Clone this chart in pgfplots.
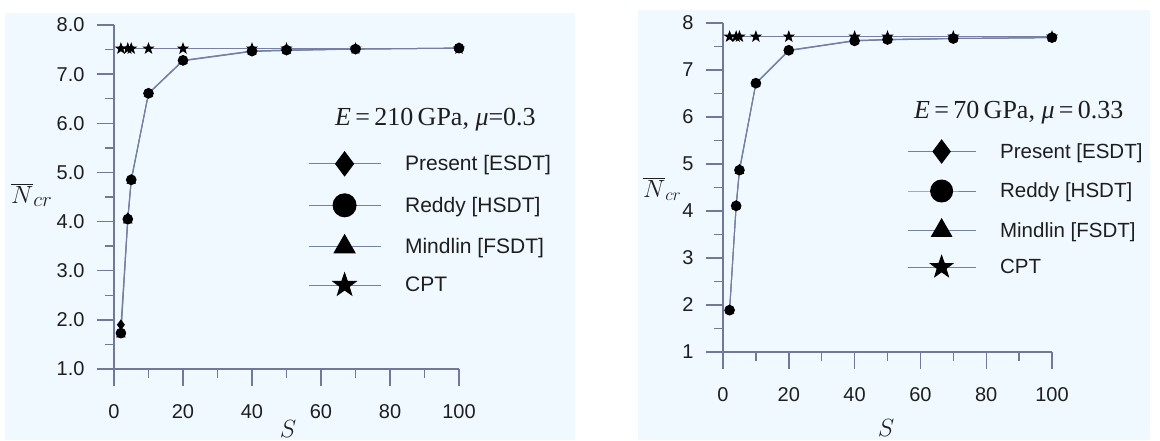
\documentclass[border=0pt]{standalone}
\usepackage{fontspec}
\setmainfont{Liberation Sans}
\newfontfamily\serif{Liberation Serif}
\usepackage{pgfplots}
\pgfplotsset{compat=1.18}

\definecolor{bgc}{RGB}{240,249,255}
\definecolor{axc}{RGB}{112,122,152}
\definecolor{lnc}{RGB}{118,128,165}
\definecolor{txt}{RGB}{30,30,30}

% filled five-pointed star
\pgfdeclareplotmark{fstar}{%
  \pgfpathmoveto{\pgfpointpolar{90}{\pgfplotmarksize}}%
  \pgfpathlineto{\pgfpointpolar{126}{0.4\pgfplotmarksize}}%
  \pgfpathlineto{\pgfpointpolar{162}{\pgfplotmarksize}}%
  \pgfpathlineto{\pgfpointpolar{198}{0.4\pgfplotmarksize}}%
  \pgfpathlineto{\pgfpointpolar{234}{\pgfplotmarksize}}%
  \pgfpathlineto{\pgfpointpolar{270}{0.4\pgfplotmarksize}}%
  \pgfpathlineto{\pgfpointpolar{306}{\pgfplotmarksize}}%
  \pgfpathlineto{\pgfpointpolar{342}{0.4\pgfplotmarksize}}%
  \pgfpathlineto{\pgfpointpolar{18}{\pgfplotmarksize}}%
  \pgfpathlineto{\pgfpointpolar{54}{0.4\pgfplotmarksize}}%
  \pgfpathclose
  \pgfusepathqfillstroke}

\pgfplotsset{
  panel/.style={
    scale only axis, anchor=south west,
    axis lines*=left,
    axis line style={axc, line width=1.4pt},
    tick style={axc, line width=1.4pt},
    tick align=outside,
    major tick length=17pt, minor tick length=9pt,
    xmin=0, xmax=100, ymin=1, ymax=8,
    xtick={0,20,...,100}, minor x tick num=1,
    ytick={1,...,8}, minor y tick num=1,
    ticklabel style={font=\fontsize{20}{24}\selectfont, text=txt},
    xticklabel style={yshift=-15pt},
    yticklabel style={xshift=-9pt},
    /pgf/number format/assume math mode=true,
    clip=false,
    legend cell align=left,
    legend style={draw=none, fill=none, inner sep=0pt, text=txt,
      nodes={inner sep=0pt}},
  },
  leftleg/.style={
    legend image code/.code={%
      \draw[mark repeat=2, mark phase=2] plot coordinates {(0pt,0pt)(36pt,0pt)(72pt,0pt)};},
    legend style={font=\fontsize{21}{25}\selectfont, row sep=18pt,
      /tikz/every odd column/.style={column sep=24pt}},
  },
  rightleg/.style={
    legend image code/.code={%
      \draw[mark repeat=2, mark phase=2] plot coordinates {(0pt,0pt)(34pt,0pt)(68pt,0pt)};},
    legend style={font=\fontsize{20.5}{24}\selectfont, row sep=17pt,
      /tikz/every odd column/.style={column sep=24pt}},
  },
  ser/.style={lnc, line width=1pt, mark options={black, draw=black, fill=black}},
}

\begin{document}
\begin{tikzpicture}
\useasboundingbox (0,0) rectangle (1160pt,-440pt);
\fill[bgc] (5pt,-13pt) rectangle (575pt,-440pt);
\fill[bgc] (638pt,-10pt) rectangle (1150pt,-440pt);

% ---------- left panel
\begin{axis}[panel, leftleg, at={(114pt,-369pt)}, width=345pt, height=344pt,
  yticklabel style={/pgf/number format/.cd, fixed, fixed zerofill, precision=1},
  legend style={at={(axis description cs:0.562,0.632)}, anchor=north west}]
\addplot[ser, mark=fstar, mark size=5pt, forget plot] coordinates {(2,7.52)(4,7.52)(5,7.52)(10,7.52)(20,7.52)(40,7.52)(50,7.52)(70,7.52)(100,7.52)};
\addplot[ser, mark=triangle*, mark size=4.5pt, forget plot] coordinates {(2,1.70)(4,4.02)(5,4.83)(10,6.60)(20,7.27)(40,7.46)(50,7.48)(70,7.51)(100,7.53)};
\addplot[ser, mark=*, mark size=4.8pt, forget plot] coordinates {(2,1.73)(4,4.05)(5,4.85)(10,6.61)(20,7.28)(40,7.47)(50,7.49)(70,7.51)(100,7.53)};
\addplot[ser, mark=diamond*, mark size=4.5pt, forget plot] coordinates {(2,1.90)(4,4.08)(5,4.86)(10,6.61)(20,7.28)(40,7.47)(50,7.49)(70,7.51)(100,7.53)};
\addlegendimage{ser, mark=diamond*, mark size=12pt}
\addlegendentry{Present [ESDT]}
\addlegendimage{ser, mark=*, mark size=11.5pt}
\addlegendentry{Reddy [HSDT]}
\addlegendimage{ser, mark=triangle*, mark size=12pt}
\addlegendentry{Mindlin [FSDT]}
\addlegendimage{ser, mark=fstar, mark size=12pt}
\addlegendentry{CPT}
\end{axis}

% ---------- right panel
\begin{axis}[panel, rightleg, at={(723pt,-352pt)}, width=329pt, height=329pt,
  legend style={at={(axis description cs:0.559,0.645)}, anchor=north west}]
\addplot[ser, mark=fstar, mark size=5pt, forget plot] coordinates {(2,7.71)(4,7.71)(5,7.71)(10,7.71)(20,7.71)(40,7.71)(50,7.71)(70,7.71)(100,7.71)};
\addplot[ser, mark=triangle*, mark size=4.5pt, forget plot] coordinates {(2,1.88)(4,4.11)(5,4.85)(10,6.71)(20,7.41)(40,7.62)(50,7.64)(70,7.67)(100,7.69)};
\addplot[ser, mark=*, mark size=4.8pt, forget plot] coordinates {(2,1.89)(4,4.11)(5,4.87)(10,6.72)(20,7.42)(40,7.62)(50,7.65)(70,7.67)(100,7.69)};
\addplot[ser, mark=diamond*, mark size=4.5pt, forget plot] coordinates {(2,1.90)(4,4.12)(5,4.89)(10,6.72)(20,7.42)(40,7.63)(50,7.65)(70,7.67)(100,7.69)};
\addlegendimage{ser, mark=diamond*, mark size=11.5pt}
\addlegendentry{Present [ESDT]}
\addlegendimage{ser, mark=*, mark size=11pt}
\addlegendentry{Reddy [HSDT]}
\addlegendimage{ser, mark=triangle*, mark size=11.5pt}
\addlegendentry{Mindlin [FSDT]}
\addlegendimage{ser, mark=fstar, mark size=11.5pt}
\addlegendentry{CPT}
\end{axis}

% annotations and axis titles
\node[anchor=base west, text=txt, inner sep=0pt] at (335pt,-125pt)
  {\serif\fontsize{26}{30}\selectfont \textit{E}\,=\,210\,GPa, \textit{μ}=0.3};
\node[anchor=base west, text=txt, inner sep=0pt] at (914pt,-118pt)
  {\serif\fontsize{26}{30}\selectfont \textit{E}\,=\,70\,GPa, \textit{μ}\,=\,0.33};
\node[anchor=base west, text=txt, inner sep=0pt] at (11pt,-203pt)
  {\fontsize{28}{32}\selectfont $\overline{N}_{cr}$};
\node[anchor=base west, text=txt, inner sep=0pt] at (643pt,-197pt)
  {\fontsize{25}{30}\selectfont $\overline{N}_{cr}$};
\node[anchor=base, text=txt, inner sep=0pt] at (288pt,-437pt)
  {\fontsize{26}{30}\selectfont $S$};
\node[anchor=base, text=txt, inner sep=0pt] at (886pt,-436pt)
  {\fontsize{26}{30}\selectfont $S$};
\end{tikzpicture}
\end{document}
